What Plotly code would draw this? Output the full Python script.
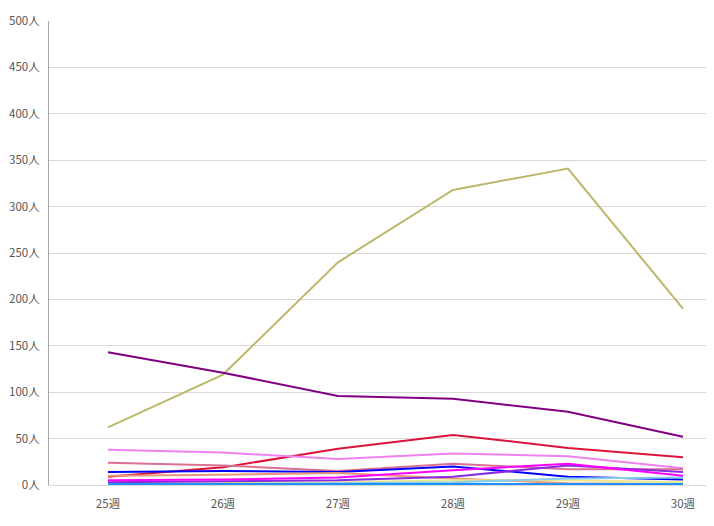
import plotly.graph_objects as go

weeks = ["25週", "26週", "27週", "28週", "29週", "30週"]

olive = [62, 119, 240, 318, 341, 190]
purple = [143, 121, 96, 93, 79, 52]
crimson = [9, 19, 39, 54, 40, 30]
violet = [38, 35, 28, 34, 31, 18]
palevioletred = [24, 21, 15, 23, 17, 17]
blue = [14, 15, 14, 20, 9, 6]
salmon = [10, 11, 13, 7, 2, 1]
magenta = [5, 6, 8, 16, 23, 10]
blueviolet = [3, 4, 5, 9, 21, 14]
khaki = [2, 3, 3, 5, 5, 3]
skyblue = [1, 1, 2, 3, 7, 8]
green = [0, 0, 0, 1, 0, 0]
dodgerblue = [1, 1, 1, 1, 1, 1]

series = [
    (olive, "#BDB76B"),
    (purple, "#800080"),
    (crimson, "#DC143C"),
    (violet, "#EE82EE"),
    (palevioletred, "#DB7093"),
    (blue, "#0000FF"),
    (salmon, "#E9967A"),
    (khaki, "#F0E68C"),
    (skyblue, "#87CEEB"),
    (green, "#008000"),
    (blueviolet, "#8A2BE2"),
    (magenta, "#FF00FF"),
    (dodgerblue, "#1E90FF"),
]

fig = go.Figure()
for vals, col in series:
    fig.add_trace(go.Scatter(x=weeks, y=vals, mode="lines",
                             line=dict(color=col, width=2), showlegend=False))

# page body has an 8px margin, so the figure is a bit smaller than the window
fig.update_layout(
    width=706, height=518,
    margin=dict(l=41, r=0, t=13, b=41),
    plot_bgcolor="white", paper_bgcolor="white",
    font=dict(family="Noto Sans CJK JP", size=11.5, color="#555555"),
)
fig.update_xaxes(type="category", range=[-0.513, 5.27], showgrid=False, automargin=False,
                 showline=True, linecolor="#d9d9d9", ticks="", ticklabelstandoff=8)
fig.update_yaxes(range=[0, 500], dtick=50, ticksuffix="人", gridcolor="#d9d9d9",
                 automargin=False, showline=True, linecolor="#a6a6a6",
                 zeroline=False, ticks="", ticklabelstandoff=6)

fig.write_html("out.html")
